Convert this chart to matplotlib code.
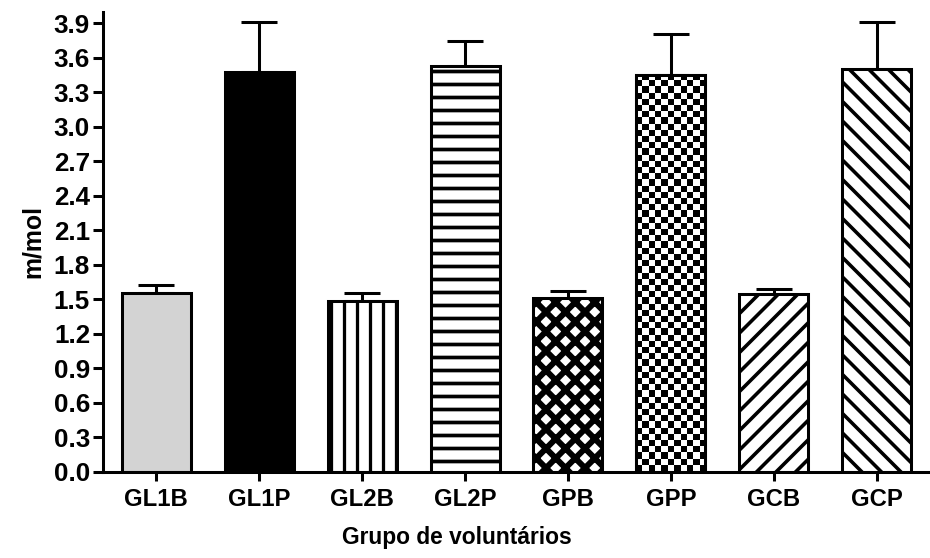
import matplotlib
matplotlib.use("Agg")
import matplotlib.pyplot as plt
import matplotlib.hatch as mhatch
from matplotlib.path import Path
import numpy as np

categories = ["GL1B", "GL1P", "GL2B", "GL2P", "GPB", "GPP", "GCB", "GCP"]
means = [1.556, 3.48, 1.487, 3.53, 1.507, 3.45, 1.545, 3.503]
errors = [0.065, 0.435, 0.064, 0.22, 0.064, 0.355, 0.043, 0.41]
yticks = [0.0, 0.3, 0.6, 0.9, 1.2, 1.5, 1.8, 2.1, 2.4, 2.7, 3.0, 3.3, 3.6, 3.9]

facecolors = ["#d3d3d3", "black", "white", "white", "white", "white", "white", "white"]
hatches = [None, None, "|", "-", "x", None, "/", "\\"]
hatch_lw = [3.0, 3.0, 3.0, 3.4, 5.5, 3.0, 3.3, 3.3]
checker = [False, False, False, False, False, True, False, False]


# Hatch patterns whose lines run past the tile edges (no seams with thick lines)
class _H(mhatch.HorizontalHatch):
    def set_vertices_and_codes(self, vertices, codes):
        steps, stepsize = np.linspace(0.0, 1.0, self.num_lines, False, retstep=True)
        steps += stepsize / 2.
        vertices[0::2, 0] = -0.3
        vertices[0::2, 1] = steps
        vertices[1::2, 0] = 1.3
        vertices[1::2, 1] = steps
        codes[0::2] = Path.MOVETO
        codes[1::2] = Path.LINETO


class _V(mhatch.VerticalHatch):
    def set_vertices_and_codes(self, vertices, codes):
        steps, stepsize = np.linspace(0.0, 1.0, self.num_lines, False, retstep=True)
        steps += stepsize / 2.
        vertices[0::2, 0] = steps
        vertices[0::2, 1] = -0.3
        vertices[1::2, 0] = steps
        vertices[1::2, 1] = 1.3
        codes[0::2] = Path.MOVETO
        codes[1::2] = Path.LINETO


class _NE(mhatch.NorthEastHatch):
    def __init__(self, hatch, density):
        super().__init__(hatch, density)
        n = (hatch.count('/') + hatch.count('x') + hatch.count('X')) * 8
        self.num_lines = n
        self.num_vertices = (n + 1) * 2 if n else 0

    def set_vertices_and_codes(self, vertices, codes):
        steps = np.linspace(-0.5, 0.5, self.num_lines + 1)
        vertices[0::2, 0] = -0.5 + steps
        vertices[0::2, 1] = -0.5 - steps
        vertices[1::2, 0] = 1.5 + steps
        vertices[1::2, 1] = 1.5 - steps
        codes[0::2] = Path.MOVETO
        codes[1::2] = Path.LINETO


class _SE(mhatch.SouthEastHatch):
    def __init__(self, hatch, density):
        super().__init__(hatch, density)
        n = (hatch.count('\\') + hatch.count('x') + hatch.count('X')) * 8
        self.num_lines = n
        self.num_vertices = (n + 1) * 2 if n else 0

    def set_vertices_and_codes(self, vertices, codes):
        steps = np.linspace(-0.5, 0.5, self.num_lines + 1)
        vertices[0::2, 0] = -0.5 + steps
        vertices[0::2, 1] = 1.5 + steps
        vertices[1::2, 0] = 1.5 + steps
        vertices[1::2, 1] = -0.5 + steps
        codes[0::2] = Path.MOVETO
        codes[1::2] = Path.LINETO


try:
    _map = {mhatch.HorizontalHatch: _H, mhatch.VerticalHatch: _V,
            mhatch.NorthEastHatch: _NE, mhatch.SouthEastHatch: _SE}
    for i, cls in enumerate(mhatch._hatch_types):
        if cls in _map:
            mhatch._hatch_types[i] = _map[cls]
except Exception:
    pass

DPI = 78
plt.rcParams["font.family"] = ["Liberation Sans", "DejaVu Sans"]
plt.rcParams["font.weight"] = "bold"

fig = plt.figure(figsize=(930 / DPI, 558 / DPI), dpi=DPI)
ax = fig.add_axes([103 / 930, (558 - 471.5) / 558, (930 - 103) / 930, (471.5 - 12) / 558])
ax.set_xlim(-0.515, 7.515)
ax.set_ylim(0, 4.0)

x = np.arange(len(categories))
ax.errorbar(x, means, yerr=[np.zeros(len(errors)), errors], fmt="none",
            ecolor="black", elinewidth=2.8, capsize=17, capthick=2.8, zorder=1)

W = 0.67
for xi, m, fc, h, hl, ck in zip(x, means, facecolors, hatches, hatch_lw, checker):
    with plt.rc_context({"hatch.linewidth": hl}):
        bc = ax.bar(xi, m, width=W, color=fc, edgecolor="black", linewidth=2.8,
                    hatch=h, zorder=2)
    p = bc.patches[0]
    if hasattr(p, "set_hatch_linewidth"):
        p.set_hatch_linewidth(hl)
    if ck:
        # checkerboard fill, clipped to the bar
        (px0, py0) = ax.transData.transform((p.get_x(), 0))
        (px1, py1) = ax.transData.transform((p.get_x() + p.get_width(), p.get_height()))
        cell = 6.2
        nx = max(1, int(round((px1 - px0) / cell)))
        ny = max(1, int(round((py1 - py0) / cell)))
        img = np.add.outer(np.arange(ny), np.arange(nx)) % 2
        im = ax.imshow(img, cmap="gray", vmin=0, vmax=1, origin="lower",
                       extent=(p.get_x(), p.get_x() + p.get_width(), 0, p.get_height()),
                       interpolation="nearest", aspect="auto", zorder=2.1)
        im.set_clip_path(p)
        ax.bar(xi, m, width=W, fill=False, edgecolor="black", linewidth=2.8, zorder=2.2)

ax.set_xlim(-0.515, 7.515)
ax.set_ylim(0, 4.0)
ax.set_aspect("auto")
ax.set_yticks(yticks)
ax.set_yticklabels([f"{v:.1f}" for v in yticks])
ax.set_xticks(x)
ax.set_xticklabels(categories)

for s in ["top", "right"]:
    ax.spines[s].set_visible(False)
for s in ["left", "bottom"]:
    ax.spines[s].set_linewidth(2.8)

ax.tick_params(axis="y", length=9, width=2.8, pad=3, labelsize=24)
ax.tick_params(axis="x", length=8, width=2.8, pad=7, labelsize=22)

ax.set_ylabel("m/mol", fontsize=23, fontweight="bold", labelpad=8)
ax.set_xlabel("Grupo de voluntários", fontsize=21, fontweight="bold")
ax.xaxis.set_label_coords(0.428, -0.118)

fig.savefig("out.png", dpi=DPI)
